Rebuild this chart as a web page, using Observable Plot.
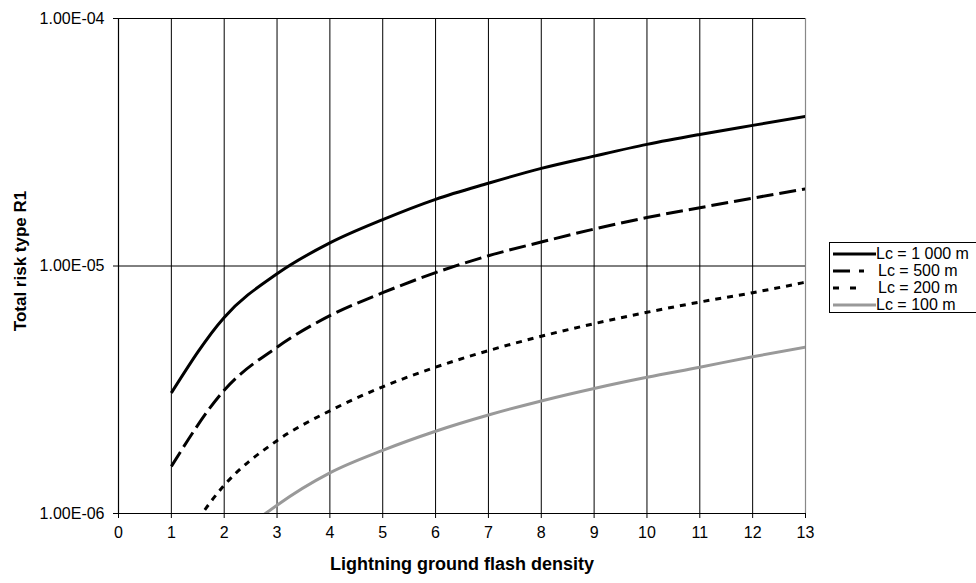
<!DOCTYPE html>
<html>
<head>
<meta charset="utf-8">
<script src="https://cdn.jsdelivr.net/npm/d3@7"></script>
<script src="https://cdn.jsdelivr.net/npm/@observablehq/plot@0.6"></script>
<style>
  html, body { margin: 0; padding: 0; background: #fff; }
  #wrap { position: relative; width: 976px; height: 583px; font-family: "Liberation Sans", Arial, sans-serif; }
  #legend { position: absolute; left: 829px; top: 242px; width: 150px; height: 71px; border: 1px solid #000; border-right: none; box-sizing: border-box; background: #fff; }
  .row { position: absolute; left: 2px; height: 17px; display: flex; align-items: center; font-size: 16px; color: #000; white-space: nowrap; }
  .row svg { width: 44px; height: 8px; margin-right: 0px; }
</style>
</head>
<body>
<div id="wrap"></div>
<script>
// Lightning ground flash density (x) and total risk R1 for each cable length
const density = [1, 2, 3, 4, 5, 6, 7, 8, 9, 10, 11, 12, 13];
const lc1000 = [3.07e-6, 6.2e-6, 9.3e-6, 1.24e-5, 1.54e-5, 1.86e-5, 2.16e-5, 2.48e-5, 2.78e-5, 3.1e-5, 3.4e-5, 3.7e-5, 4.02e-5];
const lc500  = [1.55e-6, 3.15e-6, 4.7e-6, 6.3e-6, 7.8e-6, 9.4e-6, 1.1e-5, 1.25e-5, 1.41e-5, 1.57e-5, 1.72e-5, 1.88e-5, 2.05e-5];
const lc200  = [6.5e-7, 1.3e-6, 1.97e-6, 2.6e-6, 3.25e-6, 3.9e-6, 4.55e-6, 5.2e-6, 5.85e-6, 6.5e-6, 7.15e-6, 7.8e-6, 8.6e-6];
const lc100  = [3.6e-7, 7.2e-7, 1.08e-6, 1.46e-6, 1.8e-6, 2.15e-6, 2.5e-6, 2.85e-6, 3.2e-6, 3.55e-6, 3.9e-6, 4.3e-6, 4.7e-6];
const seriesNames = ["Lc = 1 000 m", "Lc = 500 m", "Lc = 200 m", "Lc = 100 m"];
const xTicks = [0, 1, 2, 3, 4, 5, 6, 7, 8, 9, 10, 11, 12, 13];
const yTicks = [1e-6, 1e-5, 1e-4];
const xTitle = "Lightning ground flash density";
const yTitle = "Total risk type R1";

const styles = [
  {stroke: "#000", dash: null},
  {stroke: "#000", dash: "17,6"},
  {stroke: "#000", dash: "6,6"},
  {stroke: "#999", dash: null}
];
const allSeries = [lc1000, lc500, lc200, lc100];
const rows = allSeries.map((vals, i) => density.map((d, j) => ({x: d, y: vals[j], s: seriesNames[i]})));

const fmt = v => {
  const e = Math.round(Math.log10(v));
  const m = v / Math.pow(10, e);
  return m.toFixed(2) + "E" + (e < 0 ? "-" : "+") + String(Math.abs(e)).padStart(2, "0");
};

const chart = Plot.plot({
  width: 976,
  height: 583,
  marginLeft: 118,
  marginRight: 171,
  marginTop: 18,
  marginBottom: 70,
  style: {fontFamily: "'Liberation Sans', Arial, sans-serif", fontSize: "16px", background: "#fff", color: "#000"},
  x: {domain: [0, 13], ticks: xTicks, label: null},
  y: {type: "log", domain: [1e-6, 1e-4], ticks: yTicks, tickFormat: fmt, label: null},
  marks: [
    Plot.ruleX(xTicks.filter(t => t > 0 && t < 13), {stroke: "#000", strokeWidth: 1, strokeOpacity: 1}),
    Plot.ruleX([13], {stroke: "#888", strokeWidth: 1.2}),
    Plot.ruleY([1e-5, 1e-4], {stroke: "#000", strokeWidth: 1, strokeOpacity: 1}),
    ...rows.map((r, i) => Plot.line(r, {
      x: "x", y: "y", stroke: styles[i].stroke, strokeWidth: 3,
      strokeDasharray: styles[i].dash, curve: "monotone-x", clip: true,
      strokeLinecap: "butt", strokeLinejoin: "round"
    })),
    Plot.ruleX([0], {stroke: "#000", strokeWidth: 1.2}),
    Plot.ruleY([1e-6], {stroke: "#000", strokeWidth: 1.2}),
    Plot.axisX({ticks: xTicks, tickSize: 5, tickPadding: 8, label: null, stroke: "#000", fontSize: 16}),
    Plot.axisY({ticks: yTicks, tickFormat: fmt, tickSize: 5, tickPadding: 9, label: null, fontSize: 16}),
    Plot.text([xTitle], {frameAnchor: "bottom", dy: 56, text: d => d, fontWeight: "bold", fontSize: 18}),
    Plot.text([yTitle], {frameAnchor: "left", dx: -98, dy: -5, rotate: -90, textAnchor: "middle", text: d => d, fontWeight: "bold", fontSize: 17})
  ]
});
chart.style.overflow = "visible";
const wrap = document.getElementById("wrap");
wrap.appendChild(chart);

const legend = document.createElement("div");
legend.id = "legend";
seriesNames.forEach((name, i) => {
  const row = document.createElement("div");
  row.className = "row";
  row.style.top = (2 + i * 17) + "px";
  const dash = styles[i].dash ? ` stroke-dasharray="${i === 1 ? "17,9" : "6,11"}"` : "";
  row.innerHTML = `<svg viewBox="0 0 44 8"><line x1="1" y1="4" x2="${i===1||i===2 ? 32 : 44}" y2="4" stroke="${styles[i].stroke}" stroke-width="3"${dash}/></svg><span style="margin-left:${i===1||i===2?2:0}px">${name}</span>`;
  legend.appendChild(row);
});
wrap.appendChild(legend);
</script>
</body>
</html>
